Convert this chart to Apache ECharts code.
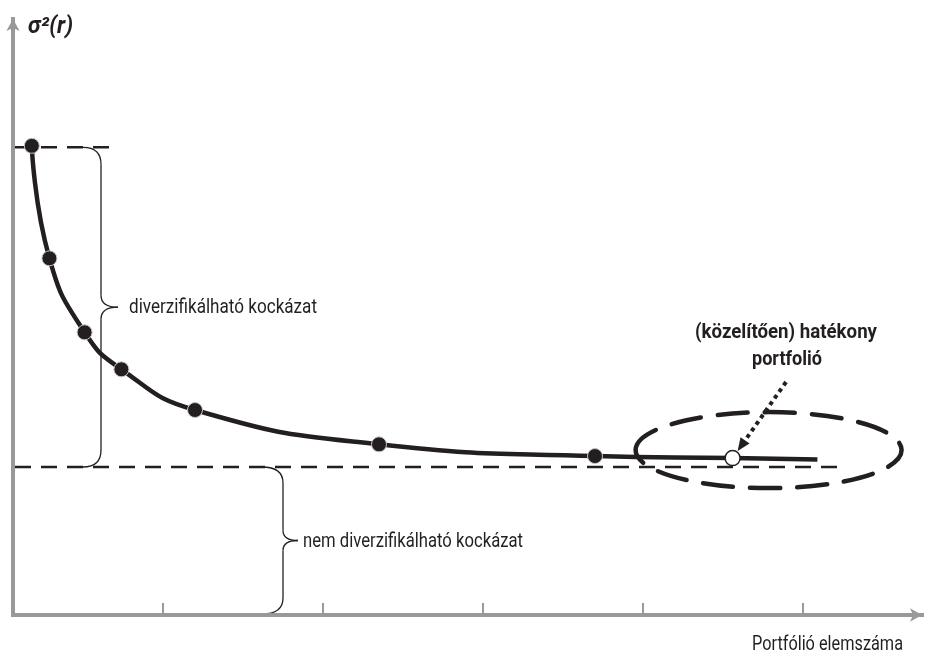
<!DOCTYPE html>
<html>
<head>
<meta charset="utf-8">
<script src="https://cdn.jsdelivr.net/npm/echarts@6/dist/echarts.min.js"></script>
<style>
  html, body { margin: 0; padding: 0; background: #ffffff; }
  #chart { width: 929px; height: 655px; }
</style>
</head>
<body>
<div id="chart"></div>
<script>
// Portfolio size (number of assets, axis units) and portfolio variance σ²(r)
const portfolioSize     = [0.18, 0.29, 0.51, 0.74, 1.2, 2.35, 3.7];
const portfolioVariance = [3.17, 2.41, 1.91, 1.66, 1.385, 1.153, 1.074];

// The (approximately) efficient portfolio
const efficientSize     = [4.56];
const efficientVariance = [1.06];

// Where the variance curve stops
const curveEndSize      = [5.09];
const curveEndVariance  = [1.05];

// Risk levels: total risk of a single asset, and the non-diversifiable floor
const totalRiskLevel      = 3.16;
const systematicRiskLevel = 1.0;
const totalRiskSpan       = [0.075, 0.67];
const systematicRiskSpan  = [0.075, 5.26];

// Axis ranges and tick positions
const xRange  = [0.0625, 5.74375];
const yRange  = [0, 4.027];
const xTicks  = [1, 2, 3, 4, 5];

// Texts
const yAxisTitle       = 'σ²(r)';
const xAxisTitle       = 'Portfólió elemszáma';
const diversifiableTxt = 'diverzifikálható kockázat';
const systematicTxt    = 'nem diverzifikálható kockázat';
const efficientTxt1    = '(közelítően) hatékony';
const efficientTxt2    = 'portfolió';

const INK  = '#231f20';
const AXIS = '#999999';
const FONT = 'Roboto, "Noto Sans", sans-serif';

const curveSize = portfolioSize.concat(efficientSize, curveEndSize);
const curveVar  = portfolioVariance.concat(efficientVariance, curveEndVariance);
const curveData = curveSize.map((x, i) => [x, curveVar[i]]);
const pointData = portfolioSize.map((x, i) => [x, portfolioVariance[i]]);
const effData   = efficientSize.map((x, i) => [x, efficientVariance[i]]);

const chart = echarts.init(document.getElementById('chart'), null, { renderer: 'canvas' });

const dashStyle = { color: INK, width: 2.5, type: [16, 10] };

chart.setOption({
  animation: false,
  backgroundColor: '#ffffff',
  textStyle: { fontFamily: FONT },
  grid: { left: 13, right: 7, top: 19, bottom: 40, outerBoundsMode: 'none' },
  xAxis: {
    type: 'value',
    min: xRange[0],
    max: xRange[1],
    axisLine: {
      show: true, onZero: false,
      symbol: ['none', 'arrow'], symbolSize: [10, 12],
      lineStyle: { color: AXIS, width: 4, cap: 'square' }
    },
    axisTick: {
      show: true, inside: true, length: 12, customValues: xTicks,
      lineStyle: { color: AXIS, width: 2 }
    },
    axisLabel: { show: false },
    splitLine: { show: false }
  },
  yAxis: {
    type: 'value',
    min: yRange[0],
    max: yRange[1],
    axisLine: {
      show: true, onZero: false,
      symbol: ['none', 'arrow'], symbolSize: [10, 12],
      lineStyle: { color: AXIS, width: 4, cap: 'square' }
    },
    axisTick: { show: false },
    axisLabel: { show: false },
    splitLine: { show: false }
  },
  series: [
    {
      name: 'total risk',
      type: 'line', silent: true, symbol: 'none', z: 2,
      data: totalRiskSpan.map(x => [x, totalRiskLevel]),
      lineStyle: dashStyle
    },
    {
      name: 'systematic risk',
      type: 'line', silent: true, symbol: 'none', z: 2,
      data: systematicRiskSpan.map(x => [x, systematicRiskLevel]),
      lineStyle: dashStyle
    },
    {
      name: 'variance curve',
      type: 'line', silent: true, symbol: 'none', z: 3,
      smooth: 0.5,
      data: curveData,
      lineStyle: { color: INK, width: 4.5 }
    },
    {
      name: 'portfolios',
      type: 'scatter', silent: true, z: 4,
      symbol: 'circle', symbolSize: 15,
      data: pointData,
      itemStyle: { color: INK, opacity: 1, borderColor: '#c8c8c8', borderWidth: 1 }
    },
    {
      name: 'efficient portfolio',
      type: 'scatter', silent: true, z: 5,
      symbol: 'circle', symbolSize: 15,
      data: effData,
      itemStyle: { color: '#ffffff', opacity: 1, borderColor: INK, borderWidth: 1.5 }
    }
  ]
});

// Annotations: braces, labels, axis titles, the ellipse and the pointer arrow
function px(x, y) { return chart.convertToPixel({ gridIndex: 0 }, [x, y]); }

// narrow a text horizontally so it spans the given width
const measureCtx = document.createElement('canvas').getContext('2d');
function narrowText(text, font, width, x, y, align, extra) {
  measureCtx.font = font;
  const w = measureCtx.measureText(text).width;
  return Object.assign({
    type: 'text', x: x, y: y, scaleX: width / w, z: 10,
    style: { text: text, fill: INK, font: font, align: align, verticalAlign: 'middle' }
  }, extra || {});
}

function brace(xv, yTop, yBot, xEnd, xTip, r, rt) {
  const ym = (yTop + yBot) / 2;
  const st = { stroke: INK, lineWidth: 1.3, fill: 'none' };
  return [
    { type: 'bezierCurve', shape: { x1: xEnd, y1: yTop, x2: xv, y2: yTop + r, cpx1: xv, cpy1: yTop }, style: st },
    { type: 'line', shape: { x1: xv, y1: yTop + r, x2: xv, y2: ym - rt }, style: st },
    { type: 'bezierCurve', shape: { x1: xv, y1: ym - rt, x2: xTip, y2: ym, cpx1: xv, cpy1: ym }, style: st },
    { type: 'bezierCurve', shape: { x1: xTip, y1: ym, x2: xv, y2: ym + rt, cpx1: xv, cpy1: ym }, style: st },
    { type: 'line', shape: { x1: xv, y1: ym + rt, x2: xv, y2: yBot - r }, style: st },
    { type: 'bezierCurve', shape: { x1: xv, y1: yBot - r, x2: xEnd, y2: yBot, cpx1: xv, cpy1: yBot }, style: st }
  ];
}

const yTotal = px(0, totalRiskLevel)[1];
const ySys   = px(0, systematicRiskLevel)[1];
const yZero  = px(0, 0)[1];
const eff    = px(efficientSize[0], efficientVariance[0]);

const elements = []
  .concat(brace(101, yTotal, ySys, 83, 118, 17, 12))
  .concat(brace(283, ySys, yZero - 1, 262, 298, 16, 10));

elements.push(
  narrowText(diversifiableTxt, '20px ' + FONT, 188, 129, (yTotal + ySys) / 2 + 1, 'left'),
  narrowText(systematicTxt, '20px ' + FONT, 220, 303, (ySys + yZero) / 2 + 1, 'left'),
  narrowText(xAxisTitle, '20px ' + FONT, 151, 752, 645, 'left'),
  narrowText(yAxisTitle, 'italic bold 23px ' + FONT, 45, 28, 27, 'left'),
  narrowText(efficientTxt1, 'bold 21px ' + FONT, 182, 786, 333, 'center'),
  narrowText(efficientTxt2, 'bold 21px ' + FONT, 70, 787, 360, 'center'),
  { type: 'ellipse', z: 10,
    shape: { cx: eff[0] + 36, cy: eff[1] - 8, rx: 133, ry: 38 },
    style: { fill: 'none', stroke: INK, lineWidth: 4.5, lineDash: [30, 17], lineCap: 'round' } }
);

// dotted pointer ending at the efficient portfolio
const tip = [eff[0] + 5, eff[1] - 7];
const start = [786, 382];
const dx = tip[0] - start[0], dy = tip[1] - start[1];
const len = Math.hypot(dx, dy);
const ux = dx / len, uy = dy / len;
const headLen = 13, headHalf = 5.5;
const base = [tip[0] - ux * headLen, tip[1] - uy * headLen];
elements.push(
  { type: 'line', z: 10,
    shape: { x1: start[0], y1: start[1], x2: base[0], y2: base[1] },
    style: { stroke: INK, lineWidth: 4, lineDash: [4, 4] } },
  { type: 'polygon', z: 10,
    shape: { points: [tip,
      [base[0] - uy * headHalf, base[1] + ux * headHalf],
      [base[0] + uy * headHalf, base[1] - ux * headHalf]] },
    style: { fill: INK } }
);

chart.setOption({ graphic: { elements: elements } });
</script>
</body>
</html>
